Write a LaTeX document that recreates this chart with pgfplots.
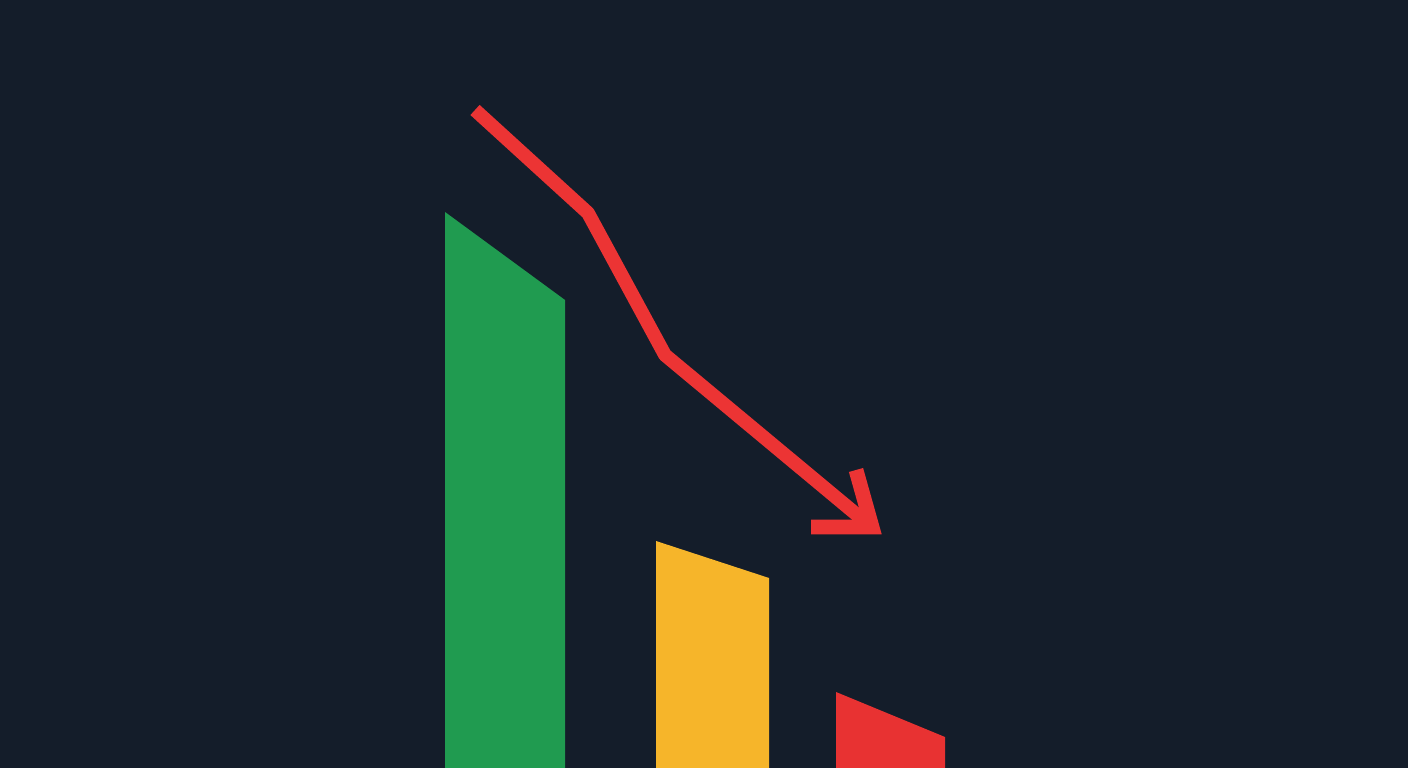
\documentclass[border=0pt]{standalone}
\usepackage{pgfplots}
\pgfplotsset{compat=1.18}
\definecolor{bg}{HTML}{141D2A}
\definecolor{barGreen}{HTML}{209B50}
\definecolor{barYellow}{HTML}{F6B52A}
\definecolor{barRed}{HTML}{E83232}
\definecolor{arrowRed}{HTML}{EC3434}
\begin{document}
\begin{tikzpicture}
\begin{axis}[
    scale only axis,
    width=14.08cm, height=7.68cm,
    xmin=0, xmax=1408, ymin=0, ymax=768,
    axis lines=none, ticks=none,
    clip=true,
]
% background
\addplot[fill=bg, draw=none] coordinates {(0,0) (1408,0) (1408,768) (0,768)} --cycle;
% bars with slanted tops (y measured up from bottom)
\addplot[fill=barGreen, draw=none] coordinates {(445,0) (565,0) (565,468) (445,556)} --cycle;
\addplot[fill=barYellow, draw=none] coordinates {(656,0) (769,0) (769,190) (656,227)} --cycle;
\addplot[fill=barRed, draw=none] coordinates {(836,0) (945,0) (945,31) (836,76)} --cycle;
% trend line
\addplot[arrowRed, line width=3.9pt, line cap=butt, line join=round] coordinates {(475,658) (588,555) (665,413) (868,244)};
% arrow head
\addplot[arrowRed, line width=4.2pt, line cap=butt, line join=miter] coordinates {(811,241) (872,241) (856,298)};
\end{axis}
\end{tikzpicture}
\end{document}
